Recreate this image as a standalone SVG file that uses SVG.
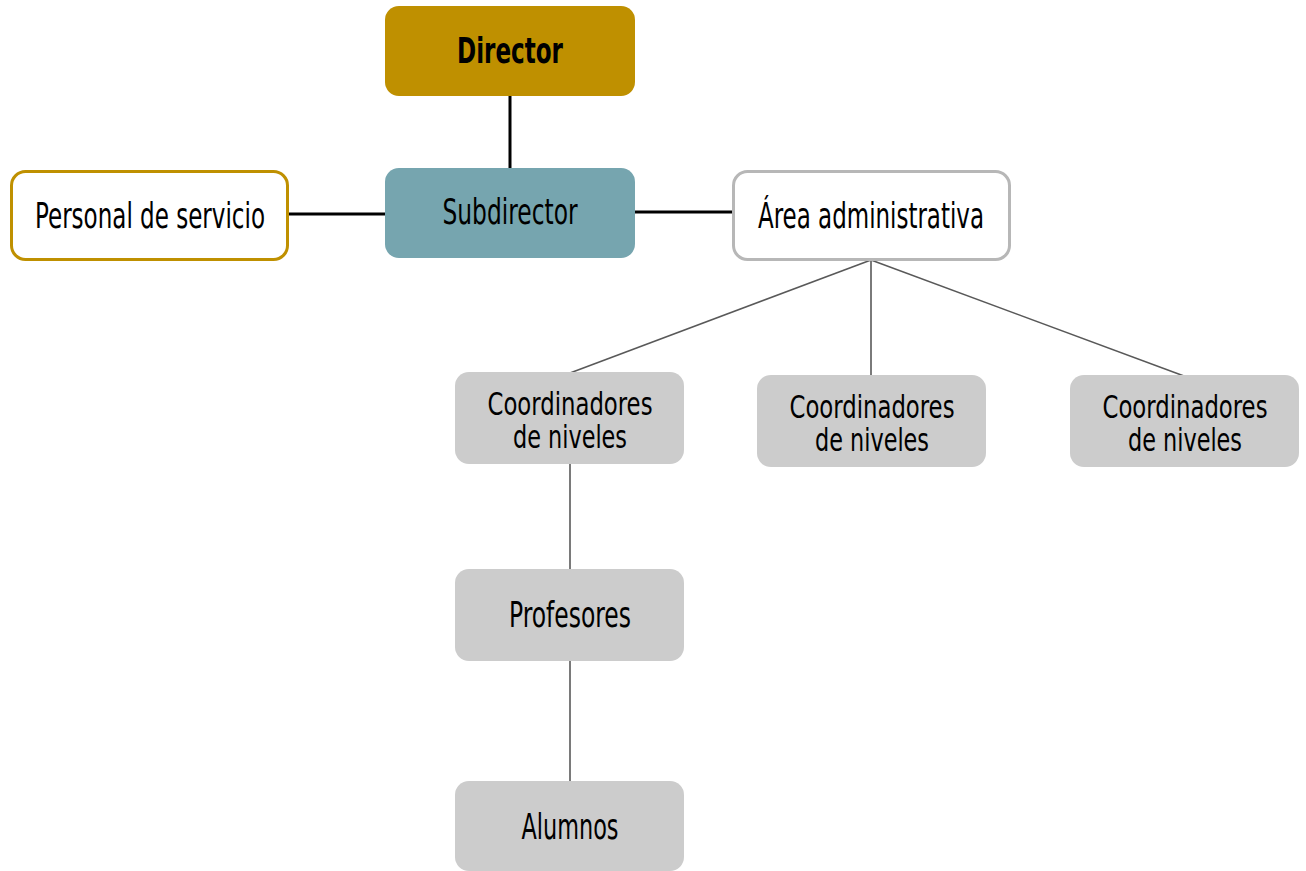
<svg xmlns="http://www.w3.org/2000/svg" width="1306" height="871" viewBox="0 0 1306 871">
<style>
text{font-family:"Liberation Sans Narrow","DejaVu Sans Condensed","Liberation Sans",sans-serif;font-stretch:condensed;font-size:35px;fill:#000;text-anchor:middle}
.b{font-weight:bold}
.s{font-size:32px}
.gray{fill:#cccccc}
.thick{stroke:#000;stroke-width:3;fill:none}
.thin{stroke:#595959;stroke-width:1.6;fill:none}
</style>
<rect width="1306" height="871" fill="#fff"/>
<g id="connectors">
<line class="thick" x1="510" y1="96" x2="510" y2="168"/>
<line class="thick" x1="288" y1="214" x2="385" y2="214"/>
<line class="thick" x1="635" y1="212" x2="732" y2="212"/>
<line class="thin" x1="871" y1="260" x2="570" y2="373"/>
<line class="thin" x1="871" y1="260" x2="871" y2="376"/>
<line class="thin" x1="871" y1="260" x2="1184" y2="376"/>
<line class="thin" x1="570" y1="464" x2="570" y2="570"/>
<line class="thin" x1="570" y1="661" x2="570" y2="782"/>
</g>
<g id="director">
<rect x="385" y="6" width="250" height="90" rx="14" fill="#bf9000"/>
<text class="b" x="510" y="63" textLength="106" lengthAdjust="spacingAndGlyphs">Director</text>
</g>
<g id="subdirector">
<rect x="385" y="168" width="250" height="90" rx="14" fill="#76a5af"/>
<text x="510" y="224" textLength="135" lengthAdjust="spacingAndGlyphs">Subdirector</text>
</g>
<g id="personal">
<rect x="11.5" y="171.5" width="276" height="88" rx="14" fill="#fff" stroke="#bf9000" stroke-width="3"/>
<text x="150" y="228" textLength="230" lengthAdjust="spacingAndGlyphs">Personal de servicio</text>
</g>
<g id="area">
<rect x="733.5" y="171.5" width="276" height="88" rx="14" fill="#fff" stroke="#b7b7b7" stroke-width="3"/>
<text x="871" y="228" textLength="226" lengthAdjust="spacingAndGlyphs">Área administrativa</text>
</g>
<g id="coord1">
<rect class="gray" x="455" y="372" width="229" height="92" rx="14"/>
<text class="s" x="570" y="415" textLength="165" lengthAdjust="spacingAndGlyphs">Coordinadores</text>
<text class="s" x="570" y="448" textLength="114" lengthAdjust="spacingAndGlyphs">de niveles</text>
</g>
<g id="coord2">
<rect class="gray" x="757" y="375" width="229" height="92" rx="14"/>
<text class="s" x="872" y="418" textLength="165" lengthAdjust="spacingAndGlyphs">Coordinadores</text>
<text class="s" x="872" y="451" textLength="114" lengthAdjust="spacingAndGlyphs">de niveles</text>
</g>
<g id="coord3">
<rect class="gray" x="1070" y="375" width="229" height="92" rx="14"/>
<text class="s" x="1185" y="418" textLength="165" lengthAdjust="spacingAndGlyphs">Coordinadores</text>
<text class="s" x="1185" y="451" textLength="114" lengthAdjust="spacingAndGlyphs">de niveles</text>
</g>
<g id="profesores">
<rect class="gray" x="455" y="569" width="229" height="92" rx="14"/>
<text x="570" y="627" textLength="122" lengthAdjust="spacingAndGlyphs">Profesores</text>
</g>
<g id="alumnos">
<rect class="gray" x="455" y="781" width="229" height="90" rx="14"/>
<text x="570" y="839" textLength="97" lengthAdjust="spacingAndGlyphs">Alumnos</text>
</g>
</svg>
